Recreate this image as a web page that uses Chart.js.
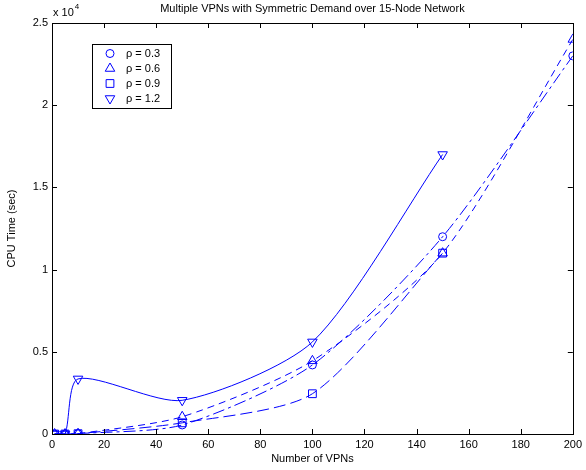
<!DOCTYPE html>
<html>
<head>
<meta charset="utf-8">
<script src="https://cdn.jsdelivr.net/npm/chart.js@4/dist/chart.umd.min.js"></script>
<style>
	html, body { margin: 0; padding: 0; background: #fff; }
</style>
</head>
<body>
<canvas id="myChart" width="586" height="470"></canvas>
<script>

	// number of VPNs at each run
	var vpnsShort = [1, 5, 10, 50, 100, 150];
	var vpnsLong  = [1, 5, 10, 50, 100, 150, 200];

	// CPU time (sec) for each load factor
	var rho03 = [0, 0, 20, 550, 4200, 12000, 23000];
	var rho06 = [0, 0, 20, 1050, 4450, 11000, 24000];
	var rho09 = [0, 0, 20, 680, 2450, 11000];
	var rho12 = [0, 0, 3350, 2050, 5600, 17000];

	var seriesLabels = ["\u03C1 = 0.3", "\u03C1 = 0.6", "\u03C1 = 0.9", "\u03C1 = 1.2"];
	var xTickStep = 20;
	var yTickStep = 5000;
	var yScaleDiv = 10000;

	var blue = "#0000ff";
	var fontFamily = "'Liberation Sans', Arial, sans-serif";

	function toPoints(xs, ys) {
		return xs.map(function (x, i) {
			return { x: x, y: ys[i] };
		});
	}

	function series(label, xs, ys, style, rot, radius, dash) {
		return {
			label           : label,
			data            : toPoints(xs, ys),
			borderColor     : blue,
			borderWidth     : 1,
			borderDash      : dash,
			backgroundColor : "rgba(0,0,0,0)",
			pointStyle      : style,
			pointRotation   : rot,
			pointRadius     : radius,
			pointBorderColor: blue,
			pointBorderWidth: 1,
			pointBackgroundColor: "rgba(0,0,0,0)",
			tension         : 0.25,
			fill            : false
		};
	}

	var data = {
		datasets: [
			series(seriesLabels[0], vpnsLong,  rho03, "circle",   0,   4,   [12, 4, 3, 4]),
			series(seriesLabels[1], vpnsLong,  rho06, "triangle", 0,   5.5, [7, 5]),
			series(seriesLabels[2], vpnsShort, rho09, "rect",     0,   5.5, [12, 5]),
			series(seriesLabels[3], vpnsShort, rho12, "triangle", 180, 5.5, [])
		]
	};

	// frame, inward ticks, title, exponent and the boxed legend
	var decorations = {
		id: "decorations",
		afterDraw: function (chart) {
			var ctx = chart.ctx;
			var a = chart.chartArea;
			var xs = chart.scales.x;
			var ys = chart.scales.y;
			var tl = 5;

			ctx.save();
			ctx.strokeStyle = "#000";
			ctx.lineWidth = 1;
			ctx.strokeRect(Math.round(a.left) + 0.5, Math.round(a.top) + 0.5,
				Math.round(a.right - a.left), Math.round(a.bottom - a.top));

			ctx.beginPath();
			xs.ticks.forEach(function (t) {
				var px = Math.round(xs.getPixelForValue(t.value)) + 0.5;
				ctx.moveTo(px, a.bottom);
				ctx.lineTo(px, a.bottom - tl);
				ctx.moveTo(px, a.top);
				ctx.lineTo(px, a.top + tl);
			});
			ys.ticks.forEach(function (t) {
				var py = Math.round(ys.getPixelForValue(t.value)) + 0.5;
				ctx.moveTo(a.left, py);
				ctx.lineTo(a.left + tl, py);
				ctx.moveTo(a.right, py);
				ctx.lineTo(a.right - tl, py);
			});
			ctx.stroke();

			ctx.fillStyle = "#000";
			ctx.font = "11px " + fontFamily;
			ctx.textAlign = "center";
			ctx.textBaseline = "middle";
			ctx.fillText("Multiple VPNs with Symmetric Demand over 15-Node Network",
				(a.left + a.right) / 2, 9);

			ctx.textAlign = "left";
			ctx.fillText("x 10", a.left + 1, 13);
			var w = ctx.measureText("x 10").width;
			ctx.font = "8px " + fontFamily;
			ctx.fillText("4", a.left + 2 + w, 7);

			// legend box
			var lx = 92, ly = 44, lw = 79, lh = 64;
			ctx.fillStyle = "#fff";
			ctx.fillRect(lx, ly, lw, lh);
			ctx.strokeRect(lx + 0.5, ly + 0.5, lw, lh);
			ctx.font = "11px " + fontFamily;
			chart.data.datasets.forEach(function (ds, i) {
				var cy = ly + 9.5 + i * 15;
				ctx.strokeStyle = blue;
				ctx.fillStyle = "rgba(0,0,0,0)";
				ctx.lineWidth = 1;
				ctx.setLineDash([]);
				Chart.helpers.drawPoint(ctx, {
					pointStyle: ds.pointStyle,
					rotation  : ds.pointRotation,
					radius    : ds.pointRadius,
					borderWidth: 1
				}, 110, cy);
				ctx.fillStyle = "#000";
				ctx.fillText(ds.label, 126, cy);
			});
			ctx.restore();
		}
	};

	var tickFont = { family: fontFamily, size: 11 };

	var ctx = document.getElementById("myChart").getContext("2d");

	var myChart = new Chart(ctx, {
		type: "line",
		data: data,
		plugins: [decorations],
		options: {
			responsive: false,
			animation : false,
			layout: { padding: { left: 0, right: 13, top: 23, bottom: 0 } },
			plugins: {
				legend : { display: false },
				tooltip: { enabled: false }
			},
			scales: {
				x: {
					type: "linear",
					min : 0,
					max : 200,
					ticks : { stepSize: xTickStep, padding: 4, color: "#000", font: tickFont, maxRotation: 0 },
					grid  : { display: false, drawTicks: false },
					border: { display: false },
					title : { display: true, text: "Number of VPNs", color: "#000", font: tickFont, padding: { top: 0, bottom: 4 } },
					afterFit: function (s) { s.height = 36; }
				},
				y: {
					type: "linear",
					min : 0,
					max : 25000,
					ticks : {
						stepSize: yTickStep, padding: 4, color: "#000", font: tickFont,
						callback: function (v) { return v / yScaleDiv; }
					},
					grid  : { display: false, drawTicks: false },
					border: { display: false },
					title : { display: true, text: "CPU Time (sec)", color: "#000", font: tickFont, padding: { top: 5, bottom: 0 } },
					afterFit: function (s) { s.width = 52; }
				}
			}
		}
	});
</script>
</body>
</html>
